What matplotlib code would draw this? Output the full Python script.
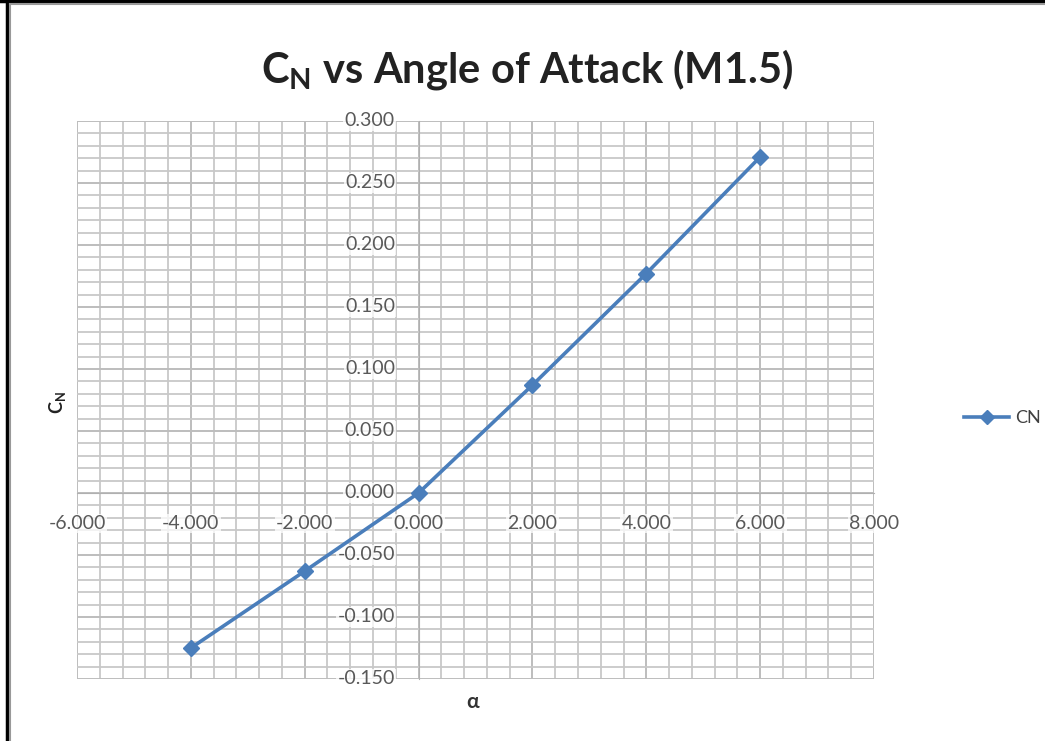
import matplotlib.pyplot as plt
from matplotlib.lines import Line2D
from matplotlib.ticker import MultipleLocator

# data
alpha = [-4.0, -2.0, 0.0, 2.0, 4.0, 6.0]
cn = [-0.125, -0.063, 0.000, 0.087, 0.177, 0.271]
xticks = [-6, -4, -2, 0, 2, 4, 6, 8]
yticks = [-0.15, -0.10, -0.05, 0.0, 0.05, 0.10, 0.15, 0.20, 0.25, 0.30]

plt.rcParams['font.family'] = ['Lato', 'DejaVu Sans']

W, H = 1045, 741
fig = plt.figure(figsize=(W / 100, H / 100), dpi=100)
ax = fig.add_axes([77 / W, 1 - 679 / H, (874 - 77) / W, (679 - 121) / H])

blue = '#4a7ebb'
ax.plot(alpha, cn, color=blue, lw=2.6, marker='D', markersize=8,
        markeredgecolor=blue, zorder=5, clip_on=False)

ax.set_xlim(xticks[0], xticks[-1])
ax.set_ylim(yticks[0], yticks[-1])
ax.set_xticks(xticks)
ax.set_yticks(yticks)
ax.xaxis.set_minor_locator(MultipleLocator(0.4))
ax.yaxis.set_minor_locator(MultipleLocator(0.01))

ax.grid(which='major', color='#bdbdbd', lw=1.4)
ax.grid(which='minor', color='#c8c8c8', lw=1.3)
ax.set_axisbelow(True)

for s in ['top', 'right']:
    ax.spines[s].set_visible(False)
ax.spines['left'].set_position(('data', 0))
ax.spines['bottom'].set_position(('data', 0))
ax.spines['left'].set_color('#b0b0b0')
ax.spines['bottom'].set_color('#b0b0b0')
ax.tick_params(which='both', length=0, labelbottom=False, labelleft=False)

# tick labels sit on the crossing axes with a light backing, Excel style
box = dict(facecolor='white', edgecolor='none', alpha=0.75, pad=1)
for x in xticks:
    ax.annotate(f'{x:.3f}', xy=(x, 0), xytext=(0, -22), textcoords='offset points',
                ha='center', va='center', fontsize=14, color='#595959', bbox=box,
                zorder=3, annotation_clip=False)
for y in yticks:
    ax.annotate(f'{y:.3f}', xy=(0, y), xytext=(-17, 0), textcoords='offset points',
                ha='right', va='center', fontsize=14, color='#595959', bbox=box,
                zorder=3, annotation_clip=False)

fig.text(527 / W, 1 - 70 / H, r'C$_\mathregular{N}$ vs Angle of Attack (M1.5)',
         ha='center', va='center', fontsize=30, fontweight='bold', color='#222222')
fig.text(57 / W, 1 - 403 / H, r'C$_\mathregular{N}$', rotation=90, ha='center', va='center',
         fontsize=13, fontweight='bold', color='#222222')
fig.text(473 / W, 1 - 702 / H, 'α', ha='center', va='center', fontsize=15,
         fontweight='bold', color='#333333')

handle = Line2D([], [], color=blue, lw=2.6, marker='D', markersize=7)
fig.legend([handle], ['CN'], loc='center left', bbox_to_anchor=(948 / W, 1 - 418 / H),
           frameon=False, fontsize=13, handlelength=2.5, handletextpad=0.3,
           labelcolor='#404040')

# outer frame like the screenshot
fig.add_artist(Line2D([7 / W, 7 / W], [0, 1], color='black', lw=2.5, transform=fig.transFigure))
fig.add_artist(Line2D([10 / W, 10 / W], [0, 1 - 4 / H], color='#999999', lw=1.5, transform=fig.transFigure))
fig.add_artist(Line2D([0, 1], [1 - 1 / H, 1 - 1 / H], color='black', lw=2.5, transform=fig.transFigure))
fig.add_artist(Line2D([10 / W, 1], [1 - 4 / H, 1 - 4 / H], color='#999999', lw=1.5, transform=fig.transFigure))

fig.savefig('out.png', dpi=100)
